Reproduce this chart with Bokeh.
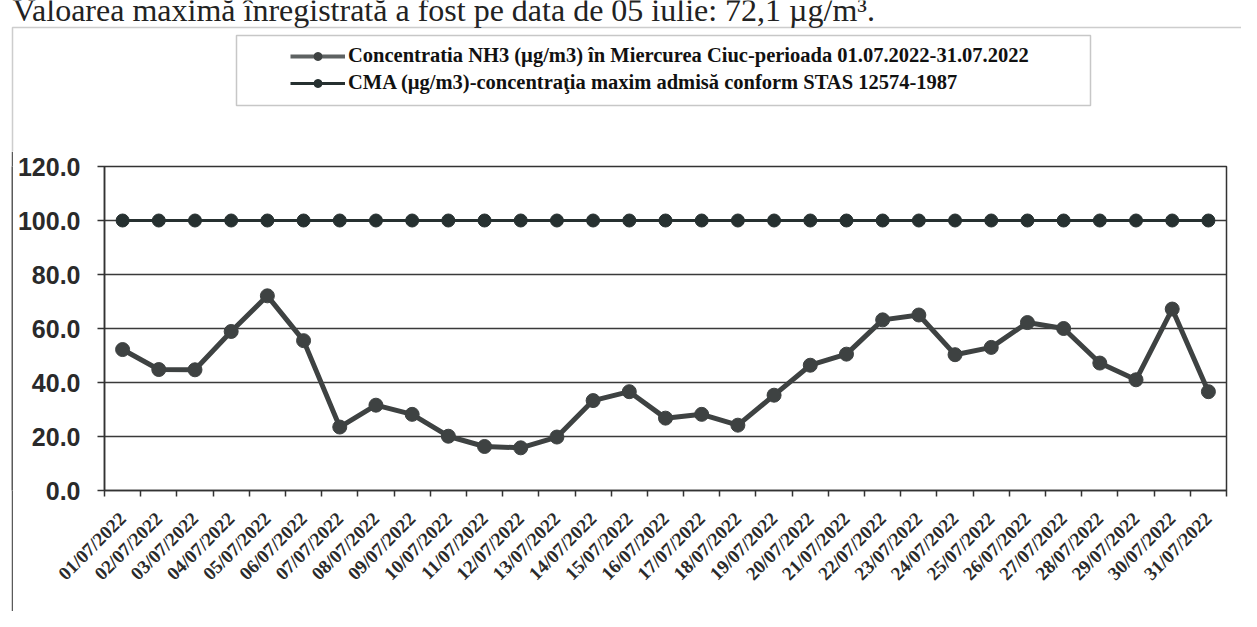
import math
from bokeh.plotting import figure
from bokeh.layouts import column, row
from bokeh.models import (FixedTicker, Legend, LegendItem, BoxAnnotation, Label,
                          Range1d, NumeralTickFormatter, Spacer)
from bokeh.embed import file_html
from bokeh.resources import INLINE

# ---------------- data ----------------
dates = ["01/07/2022", "02/07/2022", "03/07/2022", "04/07/2022", "05/07/2022",
         "06/07/2022", "07/07/2022", "08/07/2022", "09/07/2022", "10/07/2022",
         "11/07/2022", "12/07/2022", "13/07/2022", "14/07/2022", "15/07/2022",
         "16/07/2022", "17/07/2022", "18/07/2022", "19/07/2022", "20/07/2022",
         "21/07/2022", "22/07/2022", "23/07/2022", "24/07/2022", "25/07/2022",
         "26/07/2022", "27/07/2022", "28/07/2022", "29/07/2022", "30/07/2022",
         "31/07/2022"]
nh3 = [52.2, 44.8, 44.7, 58.9, 72.1, 55.5, 23.5, 31.6, 28.2, 20.1,
       16.3, 15.8, 19.8, 33.3, 36.6, 26.8, 28.2, 24.2, 35.3, 46.4,
       50.5, 63.2, 65.0, 50.3, 53.0, 62.2, 60.0, 47.2, 41.0, 67.2,
       36.6]
cma = [100.0] * 31
y_ticks = [0, 20, 40, 60, 80, 100, 120]
label_nh3 = "Concentratia NH3 (µg/m3) în Miercurea Ciuc-perioada 01.07.2022-31.07.2022"
label_cma = "CMA (µg/m3)-concentraţia maxim admisă conform STAS 12574-1987"
top_text = "Valoarea maximă înregistrată a fost pe data de 05 iulie: 72,1 µg/m³."

c_nh3 = "#3e4242"
c_cma = "#263030"
frame_col = "#5a5a5a"
NAN = float("nan")

# ---------------- header (title line, outer frame top, legend) ----------------
TW, TH = 1241, 151
top = figure(width=TW, height=TH, output_backend="svg", toolbar_location=None,
             x_range=Range1d(0, TW), y_range=Range1d(TH, 0),
             x_axis_location=None, y_axis_location=None, min_border=0)
top.outline_line_color = None
top.background_fill_color = "white"
top.border_fill_color = "white"
top.grid.visible = False

top.add_layout(Label(x=12, y=9, text=top_text, text_font="Liberation Serif",
                     text_font_size="32px", text_color="#222222",
                     text_baseline="alphabetic"))
top.add_layout(BoxAnnotation(left=12, right=5000, top=27, bottom=5000,
                             fill_alpha=0, line_color=frame_col, line_width=1.5))
top.add_layout(BoxAnnotation(left=236, right=1090, top=35, bottom=105,
                             fill_alpha=0, line_color="#444444", line_width=1.5))

d1 = top.line([NAN], [NAN], line_color="#5e6262", line_width=4)
d1s = top.scatter([NAN], [NAN], marker="circle", fill_color=c_nh3, line_color=c_nh3)
d2 = top.line([NAN], [NAN], line_color=c_cma, line_width=3)
d2s = top.scatter([NAN], [NAN], marker="circle", fill_color=c_cma, line_color=c_cma)
legend = Legend(items=[LegendItem(label=label_nh3, renderers=[d1, d1s]),
                       LegendItem(label=label_cma, renderers=[d2, d2s])],
                location=(290, 57), orientation="vertical",
                glyph_width=55, glyph_height=20, label_height=20,
                label_standoff=3, spacing=4, padding=0, margin=0,
                border_line_alpha=0, background_fill_alpha=0,
                label_text_font="Liberation Serif", label_text_font_style="bold",
                label_text_font_size="20.5px", label_text_color="#111111")
top.add_layout(legend, "center")

# ---------------- left strip (outer frame, left side) ----------------
MH = 611 - TH
strip = figure(width=2, height=MH, output_backend="svg", toolbar_location=None,
               x_range=Range1d(0, 1), y_range=Range1d(0, 1),
               x_axis_location=None, y_axis_location=None, min_border=0)
strip.outline_line_color = None
strip.grid.visible = False
strip.background_fill_color = frame_col
strip.border_fill_color = frame_col

# ---------------- main chart ----------------
xc = [i + 0.5 for i in range(len(dates))]        # category centres
boundaries = list(range(len(dates) + 1))         # ticks between categories

PW = 1241 - 13
p = figure(width=PW, height=MH, output_backend="svg", toolbar_location=None,
           x_range=Range1d(0, len(dates)), y_range=Range1d(0, 120),
           min_border_left=91, min_border_right=PW - (1226 - 13), min_border_top=15,
           min_border_bottom=MH - 339)
p.background_fill_color = "white"
p.border_fill_color = "white"
p.outline_line_color = "#333333"
p.outline_line_width = 1.5

p.line(xc, nh3, line_color=c_nh3, line_width=5)
p.scatter(xc, nh3, marker="circle", size=14, fill_color=c_nh3, line_color=c_nh3)
p.line(xc, cma, line_color=c_cma, line_width=3)
p.scatter(xc, cma, marker="circle", size=13, fill_color=c_cma, line_color=c_cma)

p.yaxis.ticker = FixedTicker(ticks=y_ticks)
p.yaxis.formatter = NumeralTickFormatter(format="0.0")
p.yaxis.major_label_text_font = "Liberation Sans"
p.yaxis.major_label_text_font_style = "bold"
p.yaxis.major_label_text_font_size = "25px"
p.yaxis.major_label_text_color = "#2a2a2a"
p.yaxis.major_label_standoff = 17
p.yaxis.major_tick_out = 7
p.yaxis.major_tick_in = 0
p.yaxis.minor_tick_out = 0
p.yaxis.minor_tick_in = 0
p.yaxis.axis_line_color = "#333333"
p.yaxis.axis_line_width = 1.5
p.yaxis.major_tick_line_color = "#333333"
p.yaxis.major_tick_line_width = 1.5

p.xaxis.ticker = FixedTicker(ticks=xc, minor_ticks=boundaries)
p.xaxis.major_label_overrides = {x: d for x, d in zip(xc, dates)}
p.xaxis.major_label_orientation = math.pi / 4
p.xaxis.major_label_text_font = "Liberation Serif"
p.xaxis.major_label_text_font_style = "bold"
p.xaxis.major_label_text_font_size = "19px"
p.xaxis.major_label_text_color = "#2a2a2a"
p.xaxis.major_label_standoff = 19
p.xaxis.major_tick_out = 0
p.xaxis.major_tick_in = 0
p.xaxis.minor_tick_out = 6
p.xaxis.minor_tick_in = 0
p.xaxis.minor_tick_line_color = "#333333"
p.xaxis.minor_tick_line_width = 1.5
p.xaxis.axis_line_color = "#333333"
p.xaxis.axis_line_width = 1.5

p.xgrid.visible = False
p.ygrid.grid_line_color = "#3a3a3a"
p.ygrid.grid_line_width = 1.5

layout = column(top, row(Spacer(width=11, height=MH), strip, p))
open("out.html", "w").write(file_html(layout, INLINE))
